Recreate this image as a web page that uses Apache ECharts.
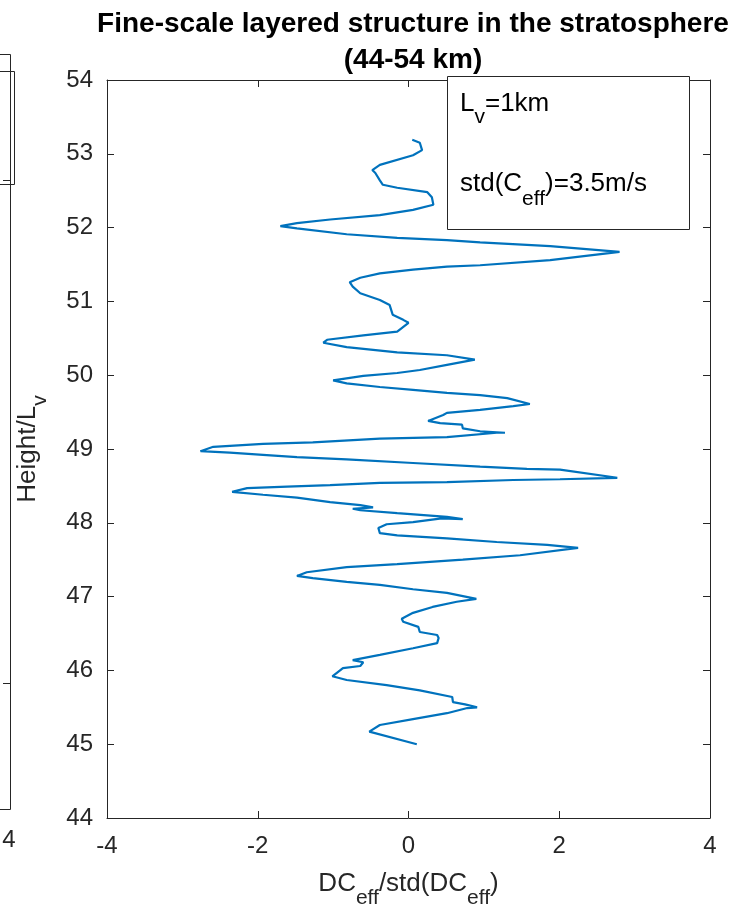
<!DOCTYPE html>
<html>
<head>
<meta charset="utf-8">
<script src="https://cdn.jsdelivr.net/npm/echarts@6/dist/echarts.min.js"></script>
<style>
html,body{margin:0;padding:0;background:#fff;}
#chart{width:734px;height:914px;}
</style>
</head>
<body>
<div id="chart"></div>
<script>
// Profile: normalized DC_eff (x) vs height in units of L_v (y)
var dcNorm = [0.11,-0.52,-0.38,0.06,0.51,0.78,0.91,0.75,0.59,0.58,0.15,-0.29,-0.82,-1.01,-0.87,-0.64,-0.60,-0.74,-0.38,0.06,
  0.38,0.40,0.38,0.15,0.13,-0.07,-0.09,0.06,0.32,0.64,0.90,0.51,0.06,-0.38,-0.82,-1.27,-1.48,-1.35,-0.82,-0.15,
  0.72,1.48,2.25,1.84,1.17,0.51,-0.15,-0.38,-0.40,-0.29,0.06,0.44,0.72,0.51,-0.15,-0.64,-0.74,-0.47,-0.64,-1.04,
  -1.48,-1.93,-2.34,-2.14,-1.61,-1.04,-0.38,0.51,1.39,2.01,2.77,2.01,1.57,0.95,0.06,-0.82,-1.48,-1.93,-2.37,-2.76,
  -2.59,-1.93,-1.27,-0.38,0.51,1.17,1.28,0.95,0.72,0.71,0.42,0.26,0.46,0.51,0.95,1.39,1.61,1.31,0.95,0.51,
  0.06,-0.38,-0.82,-1.00,-0.60,-0.15,0.15,0.51,0.88,0.51,-0.15,-0.82,-1.13,-1.08,-0.60,-0.15,0.00,-0.07,-0.21,-0.25,
  -0.38,-0.64,-0.74,-0.78,-0.64,-0.38,0.06,0.51,0.95,1.88,2.80,1.88,0.95,0.51,-0.15,-0.82,-1.48,-1.70,-1.48,-1.04,
  -0.38,0.06,0.33,0.31,0.25,-0.15,-0.34,-0.38,-0.44,-0.48,-0.38,0.06,0.18,0.15,0.05];
var heightLv = [45.00,45.17,45.26,45.34,45.42,45.49,45.50,45.54,45.57,45.64,45.73,45.80,45.87,45.92,46.03,46.06,46.11,46.14,46.21,46.30,
  46.37,46.44,46.48,46.52,46.59,46.66,46.70,46.78,46.86,46.93,46.97,47.05,47.10,47.16,47.20,47.25,47.28,47.33,47.40,47.44,
  47.50,47.56,47.66,47.70,47.74,47.79,47.83,47.86,47.93,47.98,48.01,48.06,48.05,48.08,48.13,48.17,48.19,48.21,48.24,48.28,
  48.34,48.38,48.42,48.47,48.49,48.51,48.54,48.55,48.58,48.59,48.61,48.72,48.73,48.76,48.81,48.86,48.89,48.92,48.95,48.97,
  49.03,49.07,49.09,49.14,49.16,49.22,49.22,49.24,49.28,49.33,49.35,49.38,49.46,49.49,49.53,49.58,49.61,49.69,49.73,49.76,
  49.80,49.84,49.89,49.93,49.99,50.03,50.07,50.14,50.21,50.27,50.31,50.38,50.44,50.48,50.54,50.59,50.71,50.75,50.82,50.95,
  51.02,51.11,51.20,51.26,51.32,51.38,51.43,51.47,51.49,51.56,51.67,51.75,51.80,51.83,51.86,51.91,51.99,52.02,52.06,52.11,
  52.17,52.24,52.31,52.41,52.48,52.54,52.58,52.64,52.74,52.78,52.85,52.98,53.05,53.15,53.19];
var xRange = [-4, 4], xStep = 2;
var yRange = [44, 54], yStep = 1;
var titleLines = ['Fine-scale layered structure in the stratosphere', '(44-54 km)'];
var neighborTickLabel = '4';

var pts = dcNorm.map(function (v, i) { return [v, heightLv[i]]; });
var axisColor = '#262626';
var FONT = 'Liberation Sans, Arial, sans-serif';

var chart = echarts.init(document.getElementById('chart'), null, {renderer: 'canvas'});

function mkX(pos, show) {
  return {
    type: 'value', position: pos, min: xRange[0], max: xRange[1], interval: xStep,
    axisLine: {show: true, onZero: false, lineStyle: {color: axisColor, width: 1}},
    axisTick: {show: true, inside: true, length: 7, lineStyle: {color: axisColor}},
    axisLabel: {show: show, fontSize: 24, color: axisColor, fontFamily: FONT, margin: 16},
    splitLine: {show: false}
  };
}
function mkY(pos, show) {
  return {
    type: 'value', position: pos, min: yRange[0], max: yRange[1], interval: yStep,
    axisLine: {show: true, onZero: false, lineStyle: {color: axisColor, width: 1}},
    axisTick: {show: true, inside: true, length: 7, lineStyle: {color: axisColor}},
    axisLabel: {show: show, fontSize: 24, color: axisColor, fontFamily: FONT, margin: 14},
    splitLine: {show: false}
  };
}
var xMain = mkX('bottom', true);
xMain.name = '{m|DC}{s|eff}{m|/std(DC}{s|eff}{m|)}';
xMain.nameLocation = 'middle';
xMain.nameGap = 53;
xMain.nameTextStyle = {
  fontFamily: FONT, color: axisColor,
  rich: {
    m: {fontSize: 26, fontFamily: FONT, color: axisColor, verticalAlign: 'bottom', padding: [0, 0, 12, 0]},
    s: {fontSize: 21, fontFamily: FONT, color: axisColor, verticalAlign: 'bottom'}
  }
};
var yMain = mkY('left', true);
yMain.name = '{m|Height/L}{s|v}';
yMain.nameLocation = 'middle';
yMain.nameRotate = 90;
yMain.nameGap = 56;
yMain.nameTextStyle = {
  fontFamily: FONT, color: axisColor,
  rich: {
    m: {fontSize: 26, fontFamily: FONT, color: axisColor, verticalAlign: 'bottom', padding: [0, 0, 10, 0]},
    s: {fontSize: 21, fontFamily: FONT, color: axisColor, verticalAlign: 'bottom'}
  }
};

var option = {
  backgroundColor: '#ffffff',
  animation: false,
  title: {
    text: titleLines.join('\n'),
    left: 408, textAlign: 'center', top: 1,
    textStyle: {fontSize: 28, fontWeight: 'bold', color: '#000', fontFamily: FONT, lineHeight: 36}
  },
  grid: {left: 107, right: 24, top: 80, bottom: 96, containLabel: false},
  xAxis: [xMain, mkX('top', false)],
  yAxis: [yMain, mkY('right', false)],
  series: [{
    type: 'line', xAxisIndex: 0, yAxisIndex: 0, data: pts,
    showSymbol: false, symbol: 'none', smooth: false,
    lineStyle: {color: '#0072BD', width: 2.2}, z: 3
  }],
  graphic: [
    // annotation box
    {type: 'rect', shape: {x: 447.5, y: 76.5, width: 242, height: 153}, style: {fill: '#fff', stroke: axisColor, lineWidth: 1}, z: 10},
    {type: 'text', x: 460, y: 91, z: 11, style: {
      text: '{m|L}{s|v}{m|=1km}', fontFamily: FONT,
      rich: {
        m: {fontSize: 26, fontFamily: FONT, fill: '#000', verticalAlign: 'bottom', padding: [0, 0, 11, 0]},
        s: {fontSize: 21, fontFamily: FONT, fill: '#000', verticalAlign: 'bottom'}
      }}},
    {type: 'text', x: 460, y: 171, z: 11, style: {
      text: '{m|std(C}{s|eff}{m|)=3.5m/s}', fontFamily: FONT,
      rich: {
        m: {fontSize: 26, fontFamily: FONT, fill: '#000', verticalAlign: 'bottom', padding: [0, 0, 13, 0]},
        s: {fontSize: 21, fontFamily: FONT, fill: '#000', verticalAlign: 'bottom'}
      }}},
    // remnants of neighbouring panel at the left edge
    {type: 'polyline', shape: {points: [[0, 54.5], [10.5, 54.5], [10.5, 809.5], [0, 809.5]]}, style: {fill: null, stroke: axisColor, lineWidth: 1}},
    {type: 'line', shape: {x1: 3, y1: 180.5, x2: 10, y2: 180.5}, style: {stroke: axisColor, lineWidth: 1}},
    {type: 'line', shape: {x1: 3, y1: 683.5, x2: 10, y2: 683.5}, style: {stroke: axisColor, lineWidth: 1}},
    {type: 'polyline', shape: {points: [[0, 71.5], [14.5, 71.5], [14.5, 184.5], [0, 184.5]]}, style: {fill: null, stroke: axisColor, lineWidth: 1}},
    {type: 'text', x: 9, y: 840, style: {text: neighborTickLabel, fontSize: 24, fontFamily: FONT, fill: axisColor, align: 'center', verticalAlign: 'middle'}}
  ]
};
chart.setOption(option);
</script>
</body>
</html>
